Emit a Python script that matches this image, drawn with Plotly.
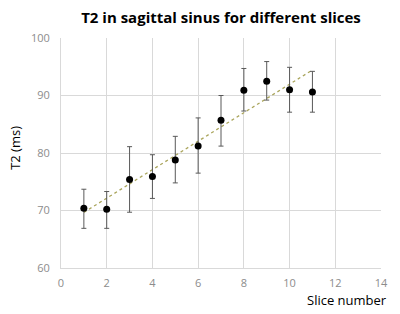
import numpy as np
import plotly.graph_objects as go

slices = [1, 2, 3, 4, 5, 6, 7, 8, 9, 10, 11]
t2 = [70.4, 70.2, 75.4, 75.9, 78.8, 81.2, 85.7, 90.9, 92.5, 91.0, 90.6]
err_plus = [3.3, 3.1, 5.7, 3.8, 4.1, 4.9, 4.3, 3.8, 3.4, 3.9, 3.6]
err_minus = [3.5, 3.3, 5.7, 3.8, 4.0, 4.7, 4.5, 3.6, 3.3, 3.9, 3.5]

xticks = [0, 2, 4, 6, 8, 10, 12, 14]
yticks = [60, 70, 80, 90, 100]

slope, intercept = np.polyfit(slices, t2, 1)
fit_x = [slices[0], slices[-1]]
fit_y = [slope * v + intercept for v in fit_x]

fig = go.Figure()
fig.add_trace(go.Scatter(
    x=fit_x, y=fit_y, mode="lines",
    line=dict(color="#aaa55c", width=1.3, dash="dot"),
    hoverinfo="skip", showlegend=False))
fig.add_trace(go.Scatter(
    x=slices, y=t2, mode="markers",
    marker=dict(color="black", size=7),
    error_y=dict(type="data", symmetric=False, array=err_plus, arrayminus=err_minus,
                 color="#595959", thickness=1, width=2.5),
    showlegend=False))

fig.update_layout(
    width=400, height=314,
    margin=dict(l=61, r=19, t=38, b=46, autoexpand=False),
    paper_bgcolor="white", plot_bgcolor="white",
    font=dict(family="Open Sans, sans-serif"),
    title=dict(text="<b>T2 in sagittal sinus for different slices</b>",
               x=0.5, xanchor="center", xref="paper", y=0.943, yref="container",
               yanchor="middle", automargin=False,
               font=dict(size=15, color="black", family="Open Sans, sans-serif")),
    xaxis=dict(range=[0, 14], tickvals=xticks, showgrid=True, gridcolor="#d9d9d9",
               gridwidth=1, zeroline=False, showline=True, linecolor="#d9d9d9",
               ticks="outside", ticklen=5, tickcolor="rgba(0,0,0,0)",
               tickfont=dict(size=11, color="#8c8c8c"), automargin=False,
               fixedrange=True),
    yaxis=dict(range=[60, 100], tickvals=yticks, showgrid=True, gridcolor="#d9d9d9",
               gridwidth=1, zeroline=False, showline=True, linecolor="#d9d9d9",
               ticks="outside", ticklen=8, tickcolor="rgba(0,0,0,0)",
               tickfont=dict(size=11, color="#8c8c8c"), automargin=False,
               fixedrange=True),
    annotations=[
        dict(text="Slice number", xref="paper", yref="paper",
             x=1.025, y=-0.137, xanchor="right", yanchor="middle",
             showarrow=False, font=dict(size=13, color="black")),
        dict(text="T2 (ms)", xref="paper", yref="paper",
             x=-0.144, y=0.522, xanchor="center", yanchor="middle", textangle=-90,
             showarrow=False, font=dict(size=13, color="black")),
    ],
)

fig.write_html("out.html", config={"displayModeBar": False},
               post_script="document.body.style.margin='0';")
